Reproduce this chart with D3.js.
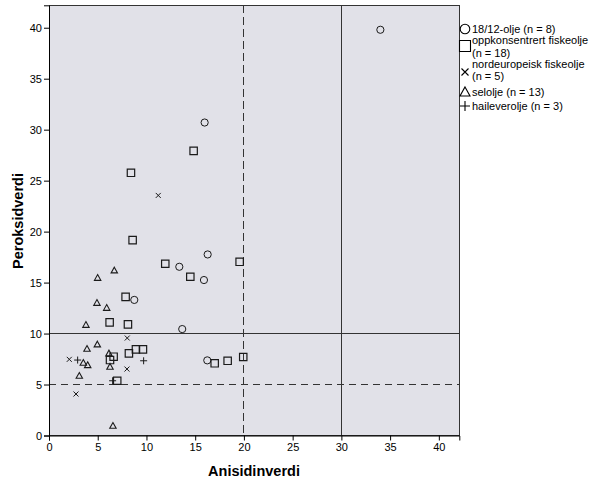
<!DOCTYPE html>
<html><head><meta charset="utf-8">
<script src="https://cdn.jsdelivr.net/npm/d3@7"></script>
<style>body{margin:0;background:#fff}svg{display:block;font-family:Arial,"Liberation Sans",sans-serif}</style>
</head><body><svg id="c" width="603" height="485"></svg>
<script>
const xTicks=[0,5,10,15,20,25,30,35,40];
const yTicks=[0,5,10,15,20,25,30,35,40];
const olje1812=[[34,39.8],[15.97,30.7],[16.28,17.76],[13.37,16.55],[15.9,15.25],[8.75,13.3],[13.67,10.44],[16.24,7.37]];
const oppkons=[[14.84,27.92],[8.41,25.77],[8.58,19.17],[11.93,16.85],[14.5,15.57],[19.56,17.04],[7.86,13.6],[6.22,11.1],[8.1,10.9],[6.63,7.73],[6.26,7.4],[8.2,8.06],[8.92,8.45],[9.64,8.45],[7.0,5.37],[17.0,7.08],[18.33,7.33],[19.93,7.7]];
const nordeur=[[11.21,23.55],[8.03,9.56],[2.08,7.47],[8.0,6.52],[2.77,4.07]];
const selolje=[[6.7,16.2],[4.99,15.47],[4.92,13.02],[5.92,12.53],[3.79,10.86],[4.96,8.94],[3.9,8.51],[6.15,8.06],[3.52,7.14],[3.97,6.91],[6.26,6.75],[3.11,5.86],[6.56,0.96]];
const haiolje=[[2.94,7.4],[9.71,7.33],[6.53,5.37]];
const seriesNames=["18/12-olje (n = 8)",["oppkonsentrert fiskeolje","(n = 18)"],["nordeuropeisk fiskeolje","(n = 5)"],"selolje (n = 13)","haileverolje (n = 3)"];
const solidX=[30], solidY=[10], dashX=[20], dashY=[5];

const svg=d3.select("#c");
const L=49,R=459.3,T=5.3,B=435.5;
const x=d3.scaleLinear().domain([0,42.1]).range([L,R]);
const y=d3.scaleLinear().domain([0,42.2]).range([B,T]);
const ink="#1a1a1a";

svg.append("rect").attr("x",L).attr("y",T).attr("width",R-L).attr("height",B-T).attr("fill","#e1e1e8");

// reference lines
const ref=svg.append("g").attr("stroke","#333").attr("stroke-width",1).attr("shape-rendering","crispEdges");
solidX.forEach(v=>ref.append("line").attr("x1",x(v)).attr("x2",x(v)).attr("y1",T).attr("y2",B));
solidY.forEach(v=>ref.append("line").attr("y1",y(v)).attr("y2",y(v)).attr("x1",L).attr("x2",R));
dashX.forEach(v=>ref.append("line").attr("x1",x(v)).attr("x2",x(v)).attr("y1",T).attr("y2",B).attr("stroke-dasharray","8,4"));
dashY.forEach(v=>ref.append("line").attr("y1",y(v)).attr("y2",y(v)).attr("x1",L).attr("x2",R).attr("stroke-dasharray","7,5"));

// frame
svg.append("rect").attr("x",L).attr("y",T).attr("width",R-L).attr("height",B-T).attr("fill","none").attr("stroke","#333").attr("shape-rendering","crispEdges");

// axes
const xa=svg.append("g").attr("transform",`translate(0,${B})`).call(d3.axisBottom(x).tickValues(xTicks).tickSize(5).tickPadding(3));
const ya=svg.append("g").attr("transform",`translate(${L},0)`).call(d3.axisLeft(y).tickValues(yTicks).tickSize(5).tickPadding(2));
[xa,ya].forEach(a=>{a.select(".domain").attr("stroke","#000");a.selectAll(".tick line").attr("stroke","#000");a.selectAll("text").attr("font-size",11).attr("fill","#000").attr("font-family","Arial, 'Liberation Sans', sans-serif");});

// marker shapes
function shape(type,s){
  switch(type){
    case "circle": return `M${s},0A${s},${s} 0 1,1 ${-s},0A${s},${s} 0 1,1 ${s},0Z`;
    case "square": return `M${-s},${-s}H${s}V${s}H${-s}Z`;
    case "x": return `M${-s},${-s}L${s},${s}M${-s},${s}L${s},${-s}`;
    case "tri": return `M0,${-s}L${s},${s*0.8}L${-s},${s*0.8}Z`;
    case "plus": return `M${-s},0H${s}M0,${-s}V${s}`;
  }
}
const series=[
  {data:olje1812,type:"circle",s:3.6,w:1},
  {data:oppkons,type:"square",s:3.7,w:1.2},
  {data:nordeur,type:"x",s:2.5,w:1},
  {data:selolje,type:"tri",s:3.2,w:1.1},
  {data:haiolje,type:"plus",s:3.5,w:1}
];
const pts=svg.append("g");
series.forEach(sr=>{
  pts.selectAll(null).data(sr.data).join("path")
    .attr("transform",d=>`translate(${x(d[0])},${y(d[1])})`)
    .attr("d",shape(sr.type,sr.s)).attr("fill","none").attr("stroke",ink).attr("stroke-width",sr.w);
});

// legend
const lg=svg.append("g");
const legRows=[{y:29,type:"circle",s:4.8},{y:46,type:"square",s:5.5},{y:72,type:"x",s:3.5},{y:92,type:"tri",s:5},{y:106,type:"plus",s:5}];
const textY=[[33],[44,57],[68,80],[96],[110]];
legRows.forEach((r,i)=>{
  lg.append("path").attr("transform",`translate(465,${r.y})`).attr("d",shape(r.type,r.s)).attr("fill","none").attr("stroke","#000").attr("stroke-width",1.1);
  const names=Array.isArray(seriesNames[i])?seriesNames[i]:[seriesNames[i]];
  names.forEach((n,j)=>lg.append("text").attr("x",472).attr("y",textY[i][j]).attr("font-size",11).text(n));
});

// titles
svg.append("text").attr("x",254).attr("y",476).attr("text-anchor","middle").attr("font-size",14.5).attr("font-weight","bold").text("Anisidinverdi");
svg.append("text").attr("transform","translate(23,221) rotate(-90)").attr("text-anchor","middle").attr("font-size",14.5).attr("font-weight","bold").text("Peroksidverdi");
</script></body></html>
